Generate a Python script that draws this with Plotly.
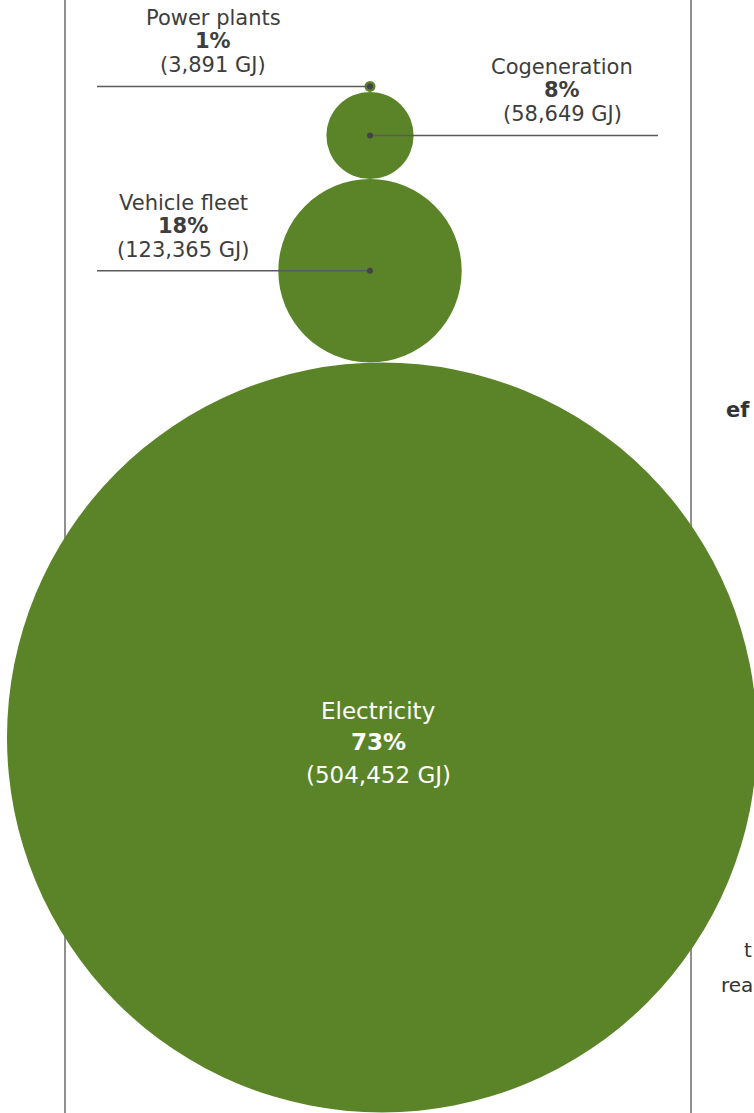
import plotly.graph_objects as go

# ---- data ----
categories = ["Electricity", "Vehicle fleet", "Cogeneration", "Power plants"]
energy_gj = [504452, 123365, 58649, 3891]
shares_pct = [73, 18, 8, 1]

W, H = 754, 1113
GREEN = "#5b8428"
TEXT = "#3d3d3d"
LINE = "#5a5a5a"
FONT = "DejaVu Sans"

# radius proportional to value, circles stacked and tangent
max_r = 375.0
k = max_r / max(energy_gj)
radii = [max(v * k, 5.5) for v in energy_gj]
centers_x = [382, 370, 370, 370]
bottom = 1112.5
centers_y = []
y_edge = bottom
for r in radii:
    cy = y_edge - r
    centers_y.append(cy)
    y_edge = cy - r

fig = go.Figure()
shapes = []
# frame lines (behind circles)
for xv in (65, 691):
    shapes.append(dict(type="line", xref="x", yref="y", x0=xv, x1=xv, y0=0, y1=H,
                       line=dict(color="#6b6b6b", width=1.5), layer="below"))
for cx, cy, r in zip(centers_x, centers_y, radii):
    shapes.append(dict(type="circle", xref="x", yref="y", x0=cx - r, x1=cx + r,
                       y0=cy - r, y1=cy + r, fillcolor=GREEN, line=dict(width=0),
                       layer="below"))

annotations = []
# leader line configs for small circles: (index, x_start_of_line, label_center_x)
leaders = [(1, 97, 183), (2, 658, 562), (3, 97, 213)]
for idx, xl, lx in leaders:
    cx, cy = centers_x[idx], centers_y[idx]
    shapes.append(dict(type="line", xref="x", yref="y", x0=xl, x1=cx, y0=cy, y1=cy,
                       line=dict(color=LINE, width=1.5), layer="above"))
    shapes.append(dict(type="circle", xref="x", yref="y", x0=cx - 3, x1=cx + 3,
                       y0=cy - 3, y1=cy + 3, fillcolor="#444444", line=dict(width=0),
                       layer="above"))
    lines = [categories[idx], f"<b>{shares_pct[idx]}%</b>", f"({energy_gj[idx]:,} GJ)"]
    for off, txt in zip((-68, -45, -21), lines):
        annotations.append(dict(x=lx, y=cy + off, xref="x", yref="y", text=txt,
                                showarrow=False, xanchor="center", yanchor="middle",
                                font=dict(family=FONT, size=21, color=TEXT)))

# big circle label
cx, cy = 378, centers_y[0]
big_lines = [categories[0], f"<b>{shares_pct[0]}%</b>", f"({energy_gj[0]:,} GJ)"]
for off, txt in zip((-27, 4, 37), big_lines):
    annotations.append(dict(x=cx, y=cy + off, xref="x", yref="y", text=txt,
                            showarrow=False, xanchor="center", yanchor="middle",
                            font=dict(family=FONT, size=23, color="white")))

# cut-off text from the neighbouring page column
for txt, xx, yy, bold, sz in (("ef", 724, 410, True, 21), ("t", 742, 950, False, 20),
                              ("rea", 719, 985, False, 20)):
    annotations.append(dict(x=xx, y=yy, xref="x", yref="y",
                            text=f"<b>{txt}</b>" if bold else txt,
                            showarrow=False, xanchor="left", yanchor="middle",
                            font=dict(family=FONT, size=sz, color="#333333")))

fig.update_layout(
    width=W, height=H,
    margin=dict(l=0, r=0, t=0, b=0),
    paper_bgcolor="white", plot_bgcolor="white",
    xaxis=dict(range=[0, W], visible=False, fixedrange=True),
    yaxis=dict(range=[H, 0], visible=False, fixedrange=True),
    shapes=shapes, annotations=annotations,
    showlegend=False,
)
fig.write_html("out.html")
